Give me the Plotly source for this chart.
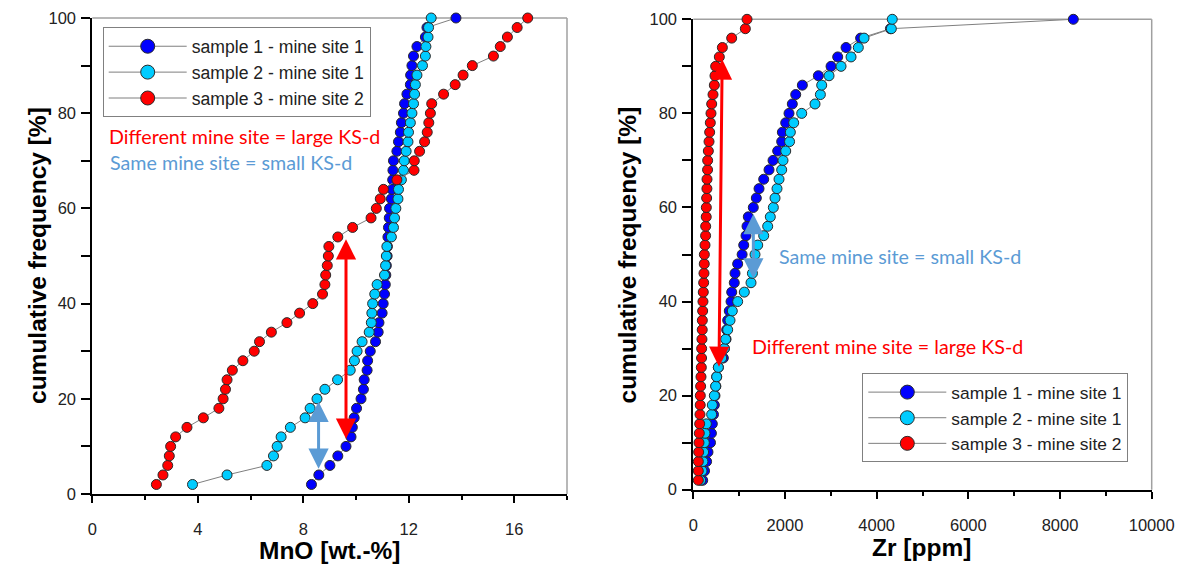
import plotly.graph_objects as go

# the page body adds an 8 px offset; the figure is laid out in window pixels
OFF = 8
W, H = 1195 - OFF, 564 - OFF

def px(x):
    return (x - OFF) / W

def py(y):
    return 1 - (y - OFF) / H

# cumulative frequency levels (2 % steps, 50 samples per series)
cum_freq = list(range(2, 101, 2))

# ---- left panel: MnO [wt.-%] ----
mno_s1 = [8.31, 8.59, 9.01, 9.31, 9.62, 9.81, 9.86, 9.93, 10.02, 10.19,
          10.28, 10.31, 10.42, 10.44, 10.54, 10.74, 10.84, 10.87, 10.99, 11.03,
          11.08, 11.11, 11.13, 11.15, 11.18, 11.19, 11.21, 11.23, 11.26, 11.27,
          11.34, 11.36, 11.39, 11.40, 11.42, 11.55, 11.61, 11.68, 11.72, 11.80,
          11.84, 11.93, 12.06, 12.07, 12.12, 12.18, 12.31, 12.63, 12.69, 13.79]
mno_s2 = [3.80, 5.11, 6.62, 6.87, 7.01, 7.16, 7.51, 8.07, 8.26, 8.52,
          8.82, 9.30, 9.78, 9.94, 10.04, 10.23, 10.50, 10.58, 10.60, 10.63,
          10.71, 10.80, 11.08, 11.12, 11.15, 11.17, 11.34, 11.42, 11.46, 11.51,
          11.59, 11.61, 11.72, 11.80, 11.83, 11.90, 11.97, 11.99, 12.06, 12.12,
          12.18, 12.22, 12.25, 12.31, 12.52, 12.63, 12.65, 12.73, 12.75, 12.85]
mno_s3 = [2.43, 2.68, 2.86, 2.92, 2.97, 3.16, 3.59, 4.21, 4.80, 4.96,
          5.05, 5.11, 5.31, 5.71, 6.14, 6.34, 6.79, 7.38, 7.86, 8.36,
          8.73, 8.82, 8.85, 8.91, 8.95, 8.97, 9.31, 9.87, 10.57, 10.77,
          10.92, 11.04, 11.55, 12.20, 12.21, 12.41, 12.60, 12.70, 12.76, 12.82,
          12.87, 13.32, 13.76, 14.06, 14.41, 15.21, 15.47, 15.74, 16.11, 16.51]

# ---- right panel: Zr [ppm] ----
zr_s1 = [205, 245, 290, 320, 375, 395, 415, 440, 459, 473,
         492, 510, 546, 655, 677, 714, 728, 750, 785, 823,
         838, 894, 910, 968, 1065, 1100, 1150, 1172, 1200, 1309,
         1375, 1434, 1536, 1652, 1739, 1841, 1928, 1943, 2016, 2088,
         2160, 2234, 2379, 2728, 3005, 3150, 3332, 3650, 4300, 8290]
zr_s2 = [160, 190, 210, 225, 240, 255, 285, 400, 415, 459,
         488, 510, 546, 619, 677, 706, 750, 801, 851, 968,
         1113, 1259, 1290, 1320, 1346, 1405, 1536, 1623, 1680, 1746,
         1783, 1826, 1870, 1928, 1957, 2016, 2100, 2117, 2190, 2365,
         2655, 2772, 2801, 2961, 3223, 3441, 3600, 3725, 4320, 4340]
zr_s3 = [109, 109, 110, 117, 124, 131, 139, 146, 151, 153,
         160, 168, 175, 180, 182, 189, 195, 197, 204, 211,
         218, 226, 233, 239, 241, 255, 268, 270, 282, 284,
         291, 297, 299, 311, 313, 328, 343, 357, 371, 386,
         401, 430, 459, 473, 488, 568, 634, 837, 1135, 1172]

names = ["sample 1 - mine site 1", "sample 2 - mine site 1", "sample 3 - mine site 2"]
colors = ["#0000FF", "#00CCFF", "#FF0000"]

# KS-d arrows (x position, lower and upper cumulative frequency)
left_red_arrow = (9.62, 11.3, 53.5)
left_blue_arrow = (8.58, 5.0, 19.4)
right_red_arrow = (630, 560, 91.5, 25.8)   # x_top, x_bottom, y_top, y_bottom
right_blue_arrow = (1310, 58.6, 44.6)

RED = "#FF0000"
LBLUE = "#5B9BD5"
LINEC = "#7F7F7F"

fig = go.Figure()

def add_series(xvals, xa, ya, legend):
    for i, xv in enumerate(xvals):
        fig.add_trace(go.Scatter(
            x=xv, y=cum_freq, xaxis=xa, yaxis=ya, mode="lines+markers",
            line=dict(color=LINEC, width=1),
            marker=dict(size=10, color=colors[i], line=dict(color="#2a2a2a", width=1)),
            showlegend=False, cliponaxis=False, name=names[i]))
    # legend entries (larger symbols as in the original legend)
    for i in range(3):
        fig.add_trace(go.Scatter(
            x=[None], y=[None], xaxis=xa, yaxis=ya, mode="lines+markers",
            line=dict(color=LINEC, width=1),
            marker=dict(size=14, color=colors[i], line=dict(color="#2a2a2a", width=1)),
            name=names[i], legend=legend, legendgroup=legend + str(i), showlegend=True))

add_series([mno_s1, mno_s2, mno_s3], "x", "y", "legend")
add_series([zr_s1, zr_s2, zr_s3], "x2", "y2", "legend2")

tickfont = dict(family="Liberation Sans, Arial", size=16.5, color="#222222")

def xaxis_cfg(domain, rng, dtick, minor, anchor):
    return dict(domain=domain, range=rng, anchor=anchor, showgrid=False, zeroline=False,
                automargin=False,
                showline=True, linecolor="black", linewidth=2,
                ticks="outside", ticklen=7, tickwidth=1.5, tickcolor="black",
                tickmode="linear", tick0=0, dtick=dtick, tickformat="d",
                minor=dict(dtick=minor, ticks="outside", ticklen=4, tickwidth=1.5, tickcolor="black", showgrid=False),
                tickfont=tickfont, ticklabelstandoff=12, fixedrange=True)

def yaxis_cfg(domain, anchor):
    return dict(domain=domain, range=[0, 100], anchor=anchor, showgrid=False, zeroline=False,
                automargin=False,
                showline=True, linecolor="black", linewidth=2,
                ticks="outside", ticklen=9, tickwidth=1.5, tickcolor="black",
                tickmode="linear", tick0=0, dtick=20,
                minor=dict(dtick=10, ticks="outside", ticklen=9, tickwidth=1.5, tickcolor="black", showgrid=False),
                tickfont=tickfont, ticklabelstandoff=2, fixedrange=True)

xd1 = [px(92.3), px(567)]
xd2 = [px(693.3), px(1151.7)]
yd1 = [py(494), py(18)]
yd2 = [py(489.7), py(19.3)]

legfont1 = dict(family="Liberation Sans, Arial", size=17.6, color="#222222")
legfont2 = dict(family="Liberation Sans, Arial", size=17.4, color="#222222")

fig.update_layout(
    width=W, height=H, margin=dict(l=0, r=0, t=0, b=0, autoexpand=False),
    paper_bgcolor="white", plot_bgcolor="white",
    xaxis=xaxis_cfg(xd1, [0, 18], 4, 2, "y"),
    yaxis=yaxis_cfg(yd1, "x"),
    xaxis2=xaxis_cfg(xd2, [0, 10000], 2000, 1000, "y2"),
    yaxis2=yaxis_cfg(yd2, "x2"),
    legend=dict(x=px(102.7), y=py(27.3), xanchor="left", yanchor="top",
                bgcolor="white", bordercolor="#808080", borderwidth=1,
                font=legfont1, itemwidth=78, tracegroupgap=0, traceorder="grouped"),
    legend2=dict(x=px(862.3), y=py(373.3), xanchor="left", yanchor="top",
                 bgcolor="white", bordercolor="#808080", borderwidth=1,
                 font=legfont2, itemwidth=78, tracegroupgap=0, traceorder="grouped"),
    showlegend=True,
)

# gray top/right frame edges
for xr, yr in (("x domain", "y domain"), ("x2 domain", "y2 domain")):
    fig.add_shape(type="line", xref=xr, yref=yr, x0=0, x1=1, y0=1, y1=1,
                  line=dict(color="#A0A0A0", width=1.5), layer="below")
    fig.add_shape(type="line", xref=xr, yref=yr, x0=1, x1=1, y0=0, y1=1,
                  line=dict(color="#A0A0A0", width=1.5), layer="below")

titlefont = dict(family="Liberation Sans, Arial", size=24.5, color="black")
for txt, x, y, ang in (("<b>cumulative frequency [%]</b>", 37, 256, -90),
                       ("<b>cumulative frequency [%]</b>", 627, 254.5, -90),
                       ("<b>MnO [wt.-%]</b>", 329.5, 550, 0),
                       ("<b>Zr [ppm]</b>", 921, 547, 0)):
    fig.add_annotation(text=txt, x=px(x), y=py(y), xref="paper", yref="paper",
                       showarrow=False, textangle=ang, font=titlefont,
                       xanchor="center", yanchor="middle")

annfont_r = dict(family="Lato, Open Sans", size=19.7, color=RED)
annfont_b = dict(family="Lato, Open Sans", size=19.7, color=LBLUE)
for txt, x, y, f in (("Different mine site = large KS-d", 106.5, 136.7, annfont_r),
                     ("Same mine site = small KS-d", 107.5, 162.3, annfont_b),
                     ("Same mine site = small KS-d", 776.5, 256.7, annfont_b),
                     ("Different mine site = large KS-d", 750, 346.7, annfont_r)):
    fig.add_annotation(text=txt, x=px(x), y=py(y), xref="paper", yref="paper",
                       showarrow=False, font=f, xanchor="left", yanchor="middle")

def dbl_arrow(xa, ya, x0, y0, x1, y1, color):
    fig.add_annotation(x=x1, y=y1, ax=x0, ay=y0, xref=xa, yref=ya, axref=xa, ayref=ya,
                       text="", showarrow=True, arrowhead=2, arrowsize=1.35, arrowwidth=3,
                       arrowcolor=color, arrowside="end+start", startarrowhead=2,
                       startarrowsize=1.35)

dbl_arrow("x", "y", left_red_arrow[0], left_red_arrow[1], left_red_arrow[0], left_red_arrow[2], RED)
dbl_arrow("x", "y", left_blue_arrow[0], left_blue_arrow[1], left_blue_arrow[0], left_blue_arrow[2], LBLUE)
dbl_arrow("x2", "y2", right_red_arrow[1], right_red_arrow[3], right_red_arrow[0], right_red_arrow[2], RED)
dbl_arrow("x2", "y2", right_blue_arrow[0], right_blue_arrow[2], right_blue_arrow[0], right_blue_arrow[1], LBLUE)

fig.write_html("out.html")
